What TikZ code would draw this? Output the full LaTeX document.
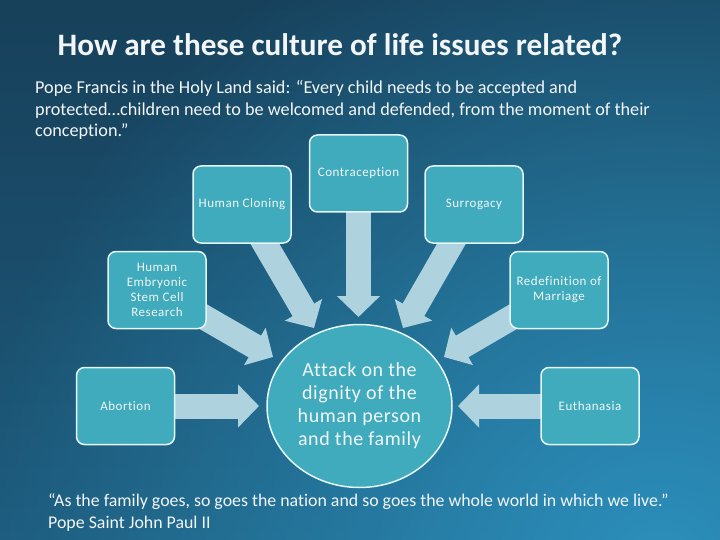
\documentclass[tikz,border=0pt]{standalone}
\usepackage{fontspec}
\setmainfont{Carlito}[Ligatures=NoCommon]
\newfontfamily\boxfont{Carlito}[LetterSpace=4,Ligatures=NoCommon]
\newfontfamily\corefont{Carlito}[LetterSpace=3,Ligatures=NoCommon]
\usetikzlibrary{arrows.meta,shapes.geometric,fadings}
\definecolor{bgtop}{HTML}{17405A}
\definecolor{bgbot}{HTML}{1D5A7B}
\definecolor{bgglow}{HTML}{2C90BC}
\definecolor{boxfill}{HTML}{3FABBC}
\definecolor{boxedge}{HTML}{E6F5F7}
\definecolor{arrowc}{HTML}{AED3DE}
\definecolor{txt}{HTML}{F2F6F8}
\tikzfading[name=glowfade, inner color=transparent!0, outer color=transparent!100]
\tikzset{
  issue/.style={draw=boxedge, line width=1.5pt, fill=boxfill, rounded corners=8pt,
    minimum width=98pt, minimum height=77pt, inner sep=2pt, align=center,
    text=txt, font=\boxfont\fontsize{13}{15}\selectfont},
  bigarrow/.style={draw=arrowc, line width=25pt, -{Triangle[width=42pt,length=21pt]}},
  plain/.style={text=txt, inner sep=0pt, anchor=base west}
}
\begin{document}
\begin{tikzpicture}[x=1pt,y=-1pt]
\useasboundingbox (0,0) rectangle (720,540);
\begin{scope}
  \clip (0,0) rectangle (720,540);
  \shade[top color=bgtop, bottom color=bgbot] (0,0) rectangle (720,540);
  \fill[bgglow, path fading=glowfade] (660,570) circle (700);
\end{scope}
% title and paragraph
\node[text=txt, font=\bfseries\fontsize{31.2}{36}\selectfont, inner sep=0pt] (title) at (340,45) {How are these culture of life issues related?};
\node[plain, font=\fontsize{18.2}{21}\selectfont] (p1) at (35,94) {Pope Francis in the Holy Land said: “Every child needs to be accepted and};
\node[plain, font=\fontsize{18.2}{21}\selectfont] (p2) at (35,115.5) {protected…children need to be welcomed and defended, from the moment of their};
\node[plain, font=\fontsize{18.2}{21}\selectfont] (p3) at (35,137) {conception.”};
% arrow targets
\coordinate (tco) at (358.5,317);
\coordinate (tcl) at (314,328);
\coordinate (tsu) at (403,328);
\coordinate (tem) at (273,357);
\coordinate (tre) at (444,357);
\coordinate (tab) at (259,406);
\coordinate (teu) at (458,406);
% box positions
\coordinate (cco) at (358.5,173.5);
\coordinate (ccl) at (242,204.5);
\coordinate (csu) at (474,204.5);
\coordinate (cem) at (157,290);
\coordinate (cre) at (559,290);
\coordinate (cab) at (125.5,406);
\coordinate (ceu) at (590,406);
\draw[bigarrow] (cco) -- (tco);
\draw[bigarrow] (ccl) -- (tcl);
\draw[bigarrow] (csu) -- (tsu);
\draw[bigarrow] (cem) -- (tem);
\draw[bigarrow] (cre) -- (tre);
\draw[bigarrow] (cab) -- (tab);
\draw[bigarrow] (ceu) -- (teu);
% boxes
\node[issue] (co) at (cco) {Contraception};
\node[issue] (cl) at (ccl) {Human Cloning};
\node[issue] (su) at (csu) {Surrogacy};
\node[issue] (em) at (cem) {Human\\Embryonic\\Stem Cell\\Research};
\node[issue] (re) at (cre) {Redefinition of\\Marriage};
\node[issue] (ab) at (cab) {Abortion};
\node[issue] (eu) at (ceu) {Euthanasia};
% centre
\node[ellipse, draw=boxedge, line width=1.5pt, fill=boxfill, minimum width=185pt, minimum height=163pt,
  inner sep=0pt, align=center, text=txt, font=\corefont\fontsize{20}{23}\selectfont] (core) at (359.5,406)
  {Attack on the\\dignity of the\\human person\\and the family};
% bottom quote
\node[plain, font=\fontsize{17.85}{21}\selectfont] (q1) at (48,506) {“As the family goes, so goes the nation and so goes the whole world in which we live.”};
\node[plain, font=\fontsize{17.85}{21}\selectfont] (q2) at (48,528) {Pope Saint John Paul II};
\end{tikzpicture}
\end{document}
